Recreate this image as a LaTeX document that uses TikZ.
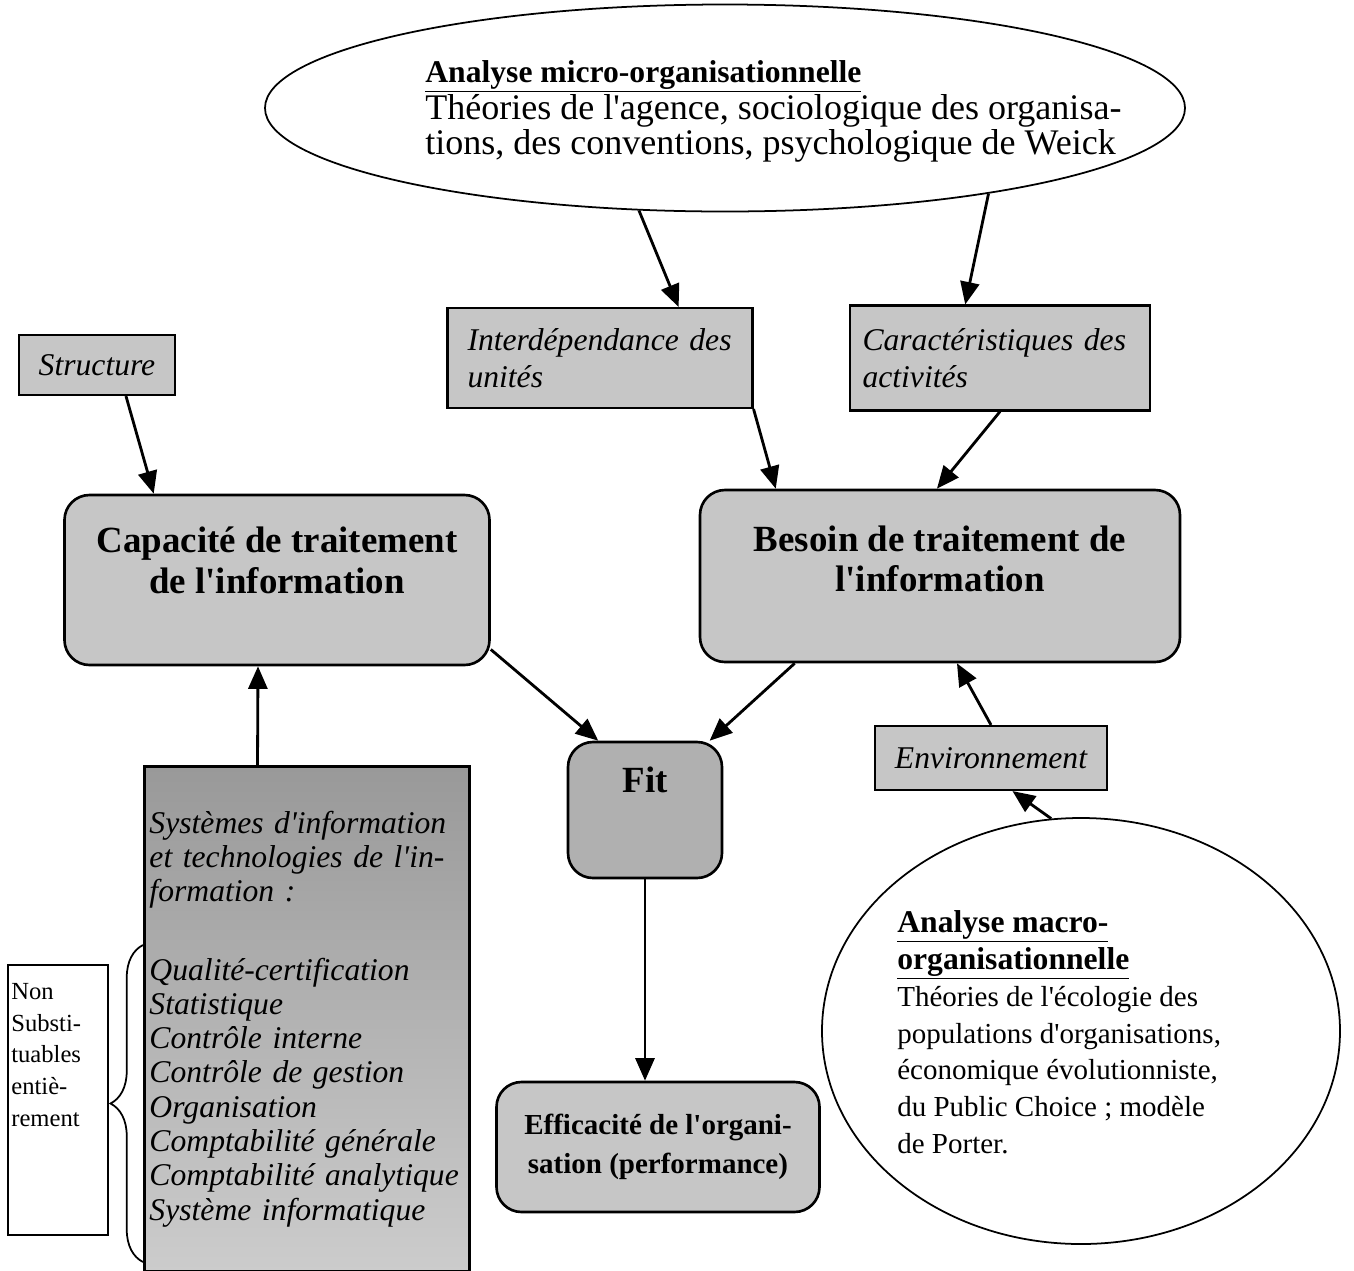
\documentclass[tikz,border=0pt]{standalone}
\usepackage{fontspec}
\setmainfont{Liberation Serif}[Ligatures=TeXOff]
\usepackage{tikz}
\usetikzlibrary{shapes.geometric,arrows.meta,decorations.pathreplacing}

\begin{document}
\begin{tikzpicture}[x=0.2mm, y=-0.2mm,
	box/.style={draw, line width=1.2pt, fill=gray!45, inner sep=0pt},
	rbox/.style={box, rounded corners=5mm, line width=1.5pt, align=center,
		font=\fontsize{21}{23}\selectfont\bfseries},
	ibox/.style={box, align=left, inner xsep=4mm,
		font=\fontsize{18}{21}\selectfont\itshape},
	oval/.style={draw, ellipse, line width=1pt, inner sep=0pt},
	arr/.style={-{Triangle[length=4.5mm, width=3.8mm]}, line width=1.6pt}]
	\useasboundingbox (0,0) rectangle (1354,1270);

	% the two analyses
	\node [oval, minimum width=184mm, minimum height=41.4mm] (micro) at (725,108) {};
	\node [anchor=north west, align=left, inner sep=0pt, font=\fontsize{20.5}{18.5}\selectfont] (microtxt) at (425,60)
		{{\fontsize{18}{18.5}\selectfont\textbf{\underline{Analyse micro-organisationnelle}}}\\
		Théories de l'agence, sociologique des organisa-\\
		tions, des conventions, psychologique de Weick};

	\node [oval, minimum width=103.6mm, minimum height=85.2mm] (macro) at (1081,1031) {};
	\node [anchor=north west, align=left, inner sep=0pt, font=\fontsize{16.5}{21}\selectfont] (macrotxt) at (897,910)
		{{\fontsize{18}{21}\selectfont\textbf{\underline{Analyse macro-}}}\\
		{\fontsize{18}{21}\selectfont\textbf{\underline{organisationnelle}}}\\
		Théories de l'écologie des\\
		populations d'organisations,\\
		économique évolutionniste,\\
		du Public Choice ; modèle\\
		de Porter.};

	% facteurs
	\node [ibox, minimum width=31mm, minimum height=12mm] (structure) at (97,365) {Structure};
	\node [ibox, minimum width=61mm, minimum height=20mm, text width=53mm] (interd) at (600,358)
		{Interdépendance des\\ unités};
	\node [ibox, minimum width=60mm, minimum height=21mm, inner xsep=2.5mm, text width=55mm] (caract) at (1000,358)
		{Caractéristiques des\\ activités};
	\node [ibox, minimum width=45.6mm, minimum height=12.8mm, align=center] (env) at (991,758) {Environnement};

	% traitement de l'information
	\node [rbox, minimum width=85mm, minimum height=34mm, text depth=8mm] (capacite) at (277,580)
		{Capacité de traitement\\ de l'information};
	\node [rbox, minimum width=96mm, minimum height=34.4mm, text depth=7mm] (besoin) at (940,576)
		{Besoin de traitement de\\ l'information};
	\node [rbox, fill=gray!62, minimum width=30.8mm, minimum height=27.2mm, text depth=12mm] (fit) at (645,810) {Fit};
	\node [rbox, minimum width=64.6mm, minimum height=26mm, font=\fontsize{16.5}{22}\selectfont\bfseries] (effic) at (658,1147)
		{Efficacité de l'organi-\\ sation (performance)};

	% systemes d'information
	\node [box, draw=black, top color=gray!80, bottom color=gray!40, minimum width=65mm, minimum height=101mm,
		align=left, text width=63mm, font=\fontsize{18}{19.5}\selectfont\itshape] (sys) at (307,1019)
		{Systèmes d'information\\
		et technologies de l'in-\\
		formation :\\[25pt]
		Qualité-certification\\
		Statistique\\
		Contrôle interne\\
		Contrôle de gestion\\
		Organisation\\
		Comptabilité générale\\
		Comptabilité analytique\\
		Système informatique};

	\node [draw, line width=0.8pt, minimum width=20mm, minimum height=54mm] (nonsub) at (58,1100) {};
	\node [anchor=north west, align=left, inner sep=0pt, font=\fontsize{14}{18}\selectfont] (nonsubtxt) at (11,983)
		{Non\\ Substi-\\ tuables\\ entiè-\\ rement};
	\coordinate (bracebot) at (143,1262);
	\coordinate (bracetop) at (143,945);
	\draw [line width=1pt, decorate, decoration={brace, amplitude=6.5mm}] (bracebot) -- (bracetop);

	% fleches
	\draw [arr] (micro.230) -- (interd.33);
	\draw [arr] (micro.342) -- (caract.123);
	\draw [arr] (structure.313) -- (capacite.145);
	\draw [arr] (interd.south east) -- (besoin.152);
	\draw [arr] (caract.south) -- (besoin.92);
	\draw [arr] (capacite.342) -- (fit.124);
	\draw [arr] (besoin.211) -- (fit.47);
	\draw [arr] ([xshift=-9.9mm]sys.north) -- ([xshift=-3.8mm]capacite.south);
	\draw [arr] (env.north) -- (besoin.281);
	\draw [arr] (macro.98) -- (env.303);
	\draw [arr] (fit.south) -- (fit.south |- effic.north);

\end{tikzpicture}
\end{document}
